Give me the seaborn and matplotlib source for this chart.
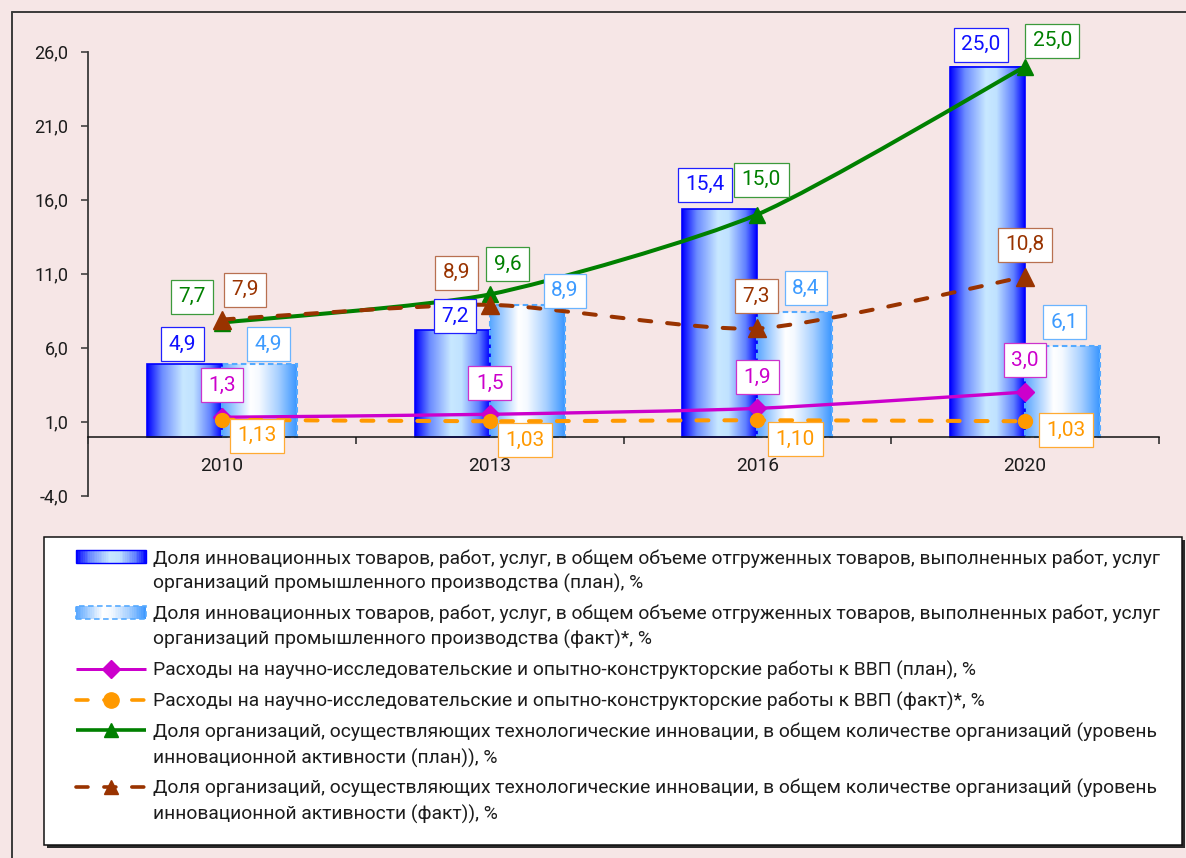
import numpy as np
import pandas as pd
import matplotlib
matplotlib.use("Agg")
import matplotlib.pyplot as plt
import seaborn as sns
from matplotlib.path import Path
from matplotlib.patches import PathPatch, Rectangle
from matplotlib.lines import Line2D
from matplotlib.colors import LinearSegmentedColormap
from matplotlib.legend_handler import HandlerBase

# ---------------- data ----------------
years = ["2010", "2013", "2016", "2020"]
share_plan = [4.9, 7.2, 15.4, 25.0]
share_fact = [4.9, 8.9, 8.4, 6.1]
rnd_plan = [1.3, 1.5, 1.9, 3.0]
rnd_fact = [1.13, 1.03, 1.10, 1.03]
innov_plan = [7.7, 9.6, 15.0, 25.0]
innov_fact = [7.9, 8.9, 7.3, 10.8]
y_ticks = [-4.0, 1.0, 6.0, 11.0, 16.0, 21.0, 26.0]

legend_labels = [
    "Доля инновационных товаров, работ, услуг, в общем объеме отгруженных товаров, выполненных работ, услуг\n"
    "организаций промышленного производства (план), %",
    "Доля инновационных товаров, работ, услуг, в общем объеме отгруженных товаров, выполненных работ, услуг\n"
    "организаций промышленного производства (факт)*, %",
    "Расходы на научно-исследовательские и опытно-конструкторские работы к ВВП (план), %",
    "Расходы на научно-исследовательские и опытно-конструкторские работы к ВВП (факт)*, %",
    "Доля организаций, осуществляющих технологические инновации, в общем количестве организаций (уровень\n"
    "инновационной активности (план)), %",
    "Доля организаций, осуществляющих технологические инновации, в общем количестве организаций (уровень\n"
    "инновационной активности (факт)), %",
]

# ---------------- label placement (pixel offsets, style only) ----------------
off_plan_bar = [(-2, 20), (3, 14), (-15, 24), (-7, 22)]
off_fact_bar = [(9, 20), (38, 14), (11, 24), (2, 24)]
off_rnd_plan = [(0, 32), (0, 31), (0, 31), (0, 32)]
off_rnd_fact = [(35, -16), (35, -19), (38, -19), (41, -9)]
off_innov_plan = [(-30, 26), (18, 30), (4, 35), (27, 26)]
off_innov_fact = [(23, 30), (-33, 32), (-1, 32), (0, 32)]

W, H = 1186, 858
BG = "#f6e6e6"
TXT = "#1c1c1c"
SMOOTH = 1 / 9.0

sns.set_theme(style="ticks")
plt.rcParams["font.family"] = ["Roboto", "DejaVu Sans"]
plt.rcParams["lines.scale_dashes"] = False

fig = plt.figure(figsize=(W / 100, H / 100), dpi=100, facecolor=BG)
ax = fig.add_axes([88 / W, 1 - 495.7 / H, (1159 - 88) / W, (495.7 - 51.7) / H])
ax.set_facecolor("none")

df = pd.DataFrame({
    "year": years * 2,
    "kind": ["plan"] * len(years) + ["fact"] * len(years),
    "value": share_plan + share_fact,
})
sns.barplot(data=df, x="year", y="value", hue="kind", hue_order=["plan", "fact"],
            order=years, width=0.56, gap=0, dodge=True, legend=False, ax=ax,
            palette={"plan": "#0000ff", "fact": "#55aaff"}, errorbar=None)

plan_cmap = LinearSegmentedColormap.from_list("plan", [
    (0.0, "#0000ff"), (0.2, "#6c8cff"), (0.48, "#c8e8ff"), (0.62, "#c0e2ff"),
    (0.85, "#6080ff"), (1.0, "#0000ff")])
fact_cmap = LinearSegmentedColormap.from_list("fact", [
    (0.0, "#5aa6ff"), (0.38, "#ffffff"), (0.5, "#f4f9ff"), (0.75, "#a8d0ff"),
    (1.0, "#3a96ff")])

grad = np.linspace(0, 1, 256).reshape(1, -1)
styles = [
    (plan_cmap, "#0000ff", "solid", 1.2),
    (fact_cmap, "#55aaff", (0, (4, 2.5)), 1.5),
]
bar_tops = []
for cont, (cmap, ec, ls, lw) in zip(ax.containers, styles):
    tops = []
    for p in cont.patches:
        x0, y0, w, h = p.get_x(), p.get_y(), p.get_width(), p.get_height()
        ax.imshow(grad, extent=[x0, x0 + w, y0, y0 + h], aspect="auto", cmap=cmap,
                  interpolation="bilinear", zorder=2)
        p.set_facecolor("none")
        p.set_edgecolor(ec)
        p.set_linestyle(ls)
        p.set_linewidth(lw)
        p.set_zorder(2.5)
        tops.append((x0 + w / 2, y0 + h))
    bar_tops.append(tops)


def smooth_path(xs, ys, k=SMOOTH):
    pts = np.column_stack([xs, ys]).astype(float)
    n = len(pts)
    verts = [pts[0]]
    codes = [Path.MOVETO]
    for i in range(n - 1):
        p0 = pts[i - 1] if i > 0 else pts[i]
        p1 = pts[i]
        p2 = pts[i + 1]
        p3 = pts[i + 2] if i + 2 < n else pts[i + 1]
        c1 = p1 + (p2 - p0) * k
        c2 = p2 - (p3 - p1) * k
        verts += [c1, c2, p2]
        codes += [Path.CURVE4] * 3
    return Path(verts, codes)


xpos = np.arange(len(years))
DASH = (0, (8.6, 11.5))
line_specs = [
    (rnd_plan, "#cc00cc", 2.4, "solid", "D", 9.5, 9, 3),
    (rnd_fact, "#ff9900", 2.9, DASH, "o", 10, 11, 3.2),
    (innov_plan, "#008000", 2.9, "solid", "^", 11, 9.5, 3.4),
    (innov_fact, "#993300", 2.9, DASH, "^", 13, 10.5, 3.6),
]
legend_lines = []
for vals, col, lw, ls, mk, ms, lms, z in line_specs:
    pp = PathPatch(smooth_path(xpos, vals), facecolor="none", edgecolor=col, lw=lw,
                   linestyle=ls, capstyle="round", zorder=z)
    ax.add_patch(pp)
    ax.plot(xpos, vals, linestyle="none", marker=mk, ms=ms, color=col, mec=col, zorder=z + 0.05)
    legend_lines.append(Line2D([], [], color=col, lw=lw * 0.9, linestyle=ls, marker=mk, ms=lms,
                               dash_capstyle="round", solid_capstyle="butt"))


def fmt(v, nd):
    return f"{v:.{nd}f}".replace(".", ",")


def label(x, y, text, off, col, ec):
    ax.annotate(text, xy=(x, y), xytext=off, textcoords="offset pixels", ha="center",
                va="center", fontsize=15, color=col, zorder=6,
                bbox=dict(boxstyle="square,pad=0.36", fc="white", ec=ec, lw=0.9))


for (bx, by), v, off in zip(bar_tops[0], share_plan, off_plan_bar):
    label(bx, by, fmt(v, 1), off, "#1010ff", "#2020ff")
for (bx, by), v, off in zip(bar_tops[1], share_fact, off_fact_bar):
    label(bx, by, fmt(v, 1), off, "#3d9bff", "#6ab4ff")
for x, v, off in zip(xpos, rnd_plan, off_rnd_plan):
    label(x, v, fmt(v, 1), off, "#cc00cc", "#cc33cc")
for x, v, off in zip(xpos, rnd_fact, off_rnd_fact):
    label(x, v, fmt(v, 2), off, "#ff9900", "#ffaa33")
for x, v, off in zip(xpos, innov_plan, off_innov_plan):
    label(x, v, fmt(v, 1), off, "#008000", "#3c9a3c")
for x, v, off in zip(xpos, innov_fact, off_innov_fact):
    label(x, v, fmt(v, 1), off, "#993300", "#b87050")

# ---------------- axes ----------------
ax.set_xlim(-0.5, len(years) - 0.5)
ax.set_ylim(y_ticks[0], y_ticks[-1])
ax.set_yticks(y_ticks)
ax.set_yticklabels([fmt(t, 1) for t in y_ticks])
ax.set_xticks(np.arange(len(years) + 1) - 0.5)
ax.set_xticklabels([])
ax.set_xticks(xpos, minor=True)
ax.set_xticklabels(years, minor=True)
ax.tick_params(axis="x", which="major", length=5, width=1.1, color="#222222", direction="out")
ax.tick_params(axis="x", which="minor", length=0, pad=14.5, labelsize=13.8, labelcolor=TXT)
ax.tick_params(axis="y", length=5, width=1.1, color="#333333", direction="out", pad=9,
               labelsize=13, labelcolor=TXT)
ax.set_xlabel("")
ax.set_ylabel("")
for s in ("top", "right"):
    ax.spines[s].set_visible(False)
ax.spines["bottom"].set_position(("data", 0))
ax.spines["bottom"].set_color("#111111")
ax.spines["bottom"].set_linewidth(1.1)
ax.spines["left"].set_color("#3a3a3a")
ax.spines["left"].set_linewidth(1.3)


# ---------------- legend ----------------
class BarKey:
    pass


plan_key, fact_key = BarKey(), BarKey()


class GradientHandler(HandlerBase):
    def __init__(self, cmap, ec, ls, lw, h_em):
        super().__init__()
        self.cmap, self.ec, self.ls, self.lw, self.h_em = cmap, ec, ls, lw, h_em

    def create_artists(self, legend, orig_handle, xdescent, ydescent, width, height,
                       fontsize, trans):
        n = 40
        h = self.h_em * fontsize
        yc = (height - ydescent) / 2
        y0 = yc - h / 2
        arts = []
        for k in range(n):
            arts.append(Rectangle((-xdescent + width * k / n, y0), width / n * 1.05, h,
                                  facecolor=self.cmap((k + 0.5) / n), edgecolor="none",
                                  transform=trans))
        arts.append(Rectangle((-xdescent, y0), width, h, facecolor="none", edgecolor=self.ec,
                              linestyle=self.ls, lw=self.lw, transform=trans))
        return arts


LFS = 13.9
handles = [plan_key, fact_key] + legend_lines
leg = ax.legend(handles, legend_labels, loc="upper left",
                bbox_to_anchor=(76 / W, 1 - 549 / H), bbox_transform=fig.transFigure,
                frameon=False, borderpad=0, borderaxespad=0, handlelength=3.63,
                handletextpad=0.36, handleheight=1.1, labelspacing=0.6, fontsize=LFS,
                numpoints=1, labelcolor=TXT,
                handler_map={plan_key: GradientHandler(plan_cmap, "#0000ff", "solid", 1.0, 0.67),
                             fact_key: GradientHandler(fact_cmap, "#55aaff", (0, (4, 2.5)), 1.2, 0.67)})
for t in leg.get_texts():
    t.set_linespacing(1.45)
for vp in leg._legend_handle_box.get_children():
    for hp in vp.get_children():
        hp.align = "top"

# legend frame with shadow
fig.add_artist(Rectangle(((44 + 3) / W, 1 - (845 + 3) / H), (1182 - 44) / W, (845 - 537) / H,
                         transform=fig.transFigure, fc="#2a2a2a", ec="none", zorder=-2))
fig.add_artist(Rectangle((44 / W, 1 - 845 / H), (1182 - 44) / W, (845 - 537) / H,
                         transform=fig.transFigure, fc="white", ec="#111111", lw=1.1, zorder=-1))

# outer chart border
fig.add_artist(Line2D([11.5 / W, 11.5 / W], [0, 1 - 12 / H], transform=fig.transFigure,
                      color="#3a3a3a", lw=1.4))
fig.add_artist(Line2D([11.5 / W, 1], [1 - 12 / H, 1 - 12 / H], transform=fig.transFigure,
                      color="#3a3a3a", lw=1.4))

fig.savefig("out.png", dpi=100, facecolor=BG)
